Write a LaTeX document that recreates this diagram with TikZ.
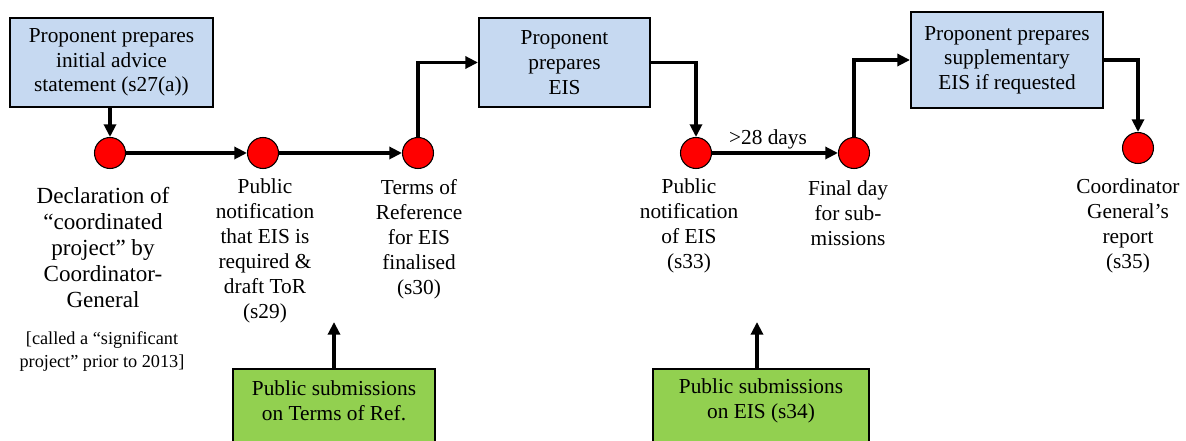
\documentclass[tikz,border=0pt]{standalone}
\usepackage{fontspec}
\setmainfont{Liberation Serif}
\newfontfamily\diagserif{Liberation Serif}
\usetikzlibrary{arrows.meta}
\definecolor{boxblue}{HTML}{C6D9F1}
\definecolor{boxgreen}{HTML}{92D050}
\definecolor{dotred}{HTML}{FF0000}

\begin{document}
\begin{tikzpicture}[x=0.75pt,y=-0.75pt,
  stagebox/.style={draw=black, line width=1.5pt, fill=boxblue, align=center,
    inner sep=0pt, font=\diagserif\fontsize{16}{18.5}\selectfont},
  subbox/.style={draw=black, line width=1.5pt, fill=boxgreen, inner sep=0pt},
  subtext/.style={align=center, inner sep=0pt, font=\diagserif\fontsize{16}{18.75}\selectfont},
  milestone/.style={circle, draw=black, line width=0.8pt, fill=dotred,
    minimum size=23.25pt, inner sep=0pt},
  caption/.style={align=center, inner sep=0pt, font=\diagserif\fontsize{16}{18.75}\selectfont},
  flow/.style={line width=2.4pt, -{Triangle[length=9.5pt,width=9pt]}},
]
\clip (0,0) rectangle (1186,441);
\useasboundingbox (0,0) rectangle (1186,441);

% proponent steps
\node[stagebox, minimum width=152.25pt, minimum height=66.75pt] (prep1) at (111.5,62.5)
  {Proponent prepares\\initial advice\\statement (s27(a))};
\node[stagebox, minimum width=128.25pt, minimum height=66.75pt] (prep2) at (564.5,62.5)
  {Proponent\\prepares\\EIS};
\node[stagebox, minimum width=144pt, minimum height=72pt] (prep3) at (1007,60)
  {Proponent prepares\\supplementary\\EIS if requested};

% milestones
\node[milestone] (m1) at (110,153) {};
\node[milestone] (m2) at (263,153) {};
\node[milestone] (m3) at (418,153) {};
\node[milestone] (m4) at (696,153) {};
\node[milestone] (m5) at (854,153) {};
\node[milestone] (m6) at (1138,148) {};

% milestone captions
\node[caption, font=\diagserif\fontsize{17.3}{19.5}\selectfont] (t1) at (103,247.5)
  {Declaration of\\“coordinated\\project” by\\Coordinator-\\General};
\node[caption, font=\diagserif\fontsize{13.7}{17.2}\selectfont] (t1note) at (102,351.5)
  {[called a “significant\\project” prior to 2013]};
\node[caption] (t2) at (265,250.5)
  {Public\\notification\\that EIS is\\required \&\\draft ToR\\(s29)};
\node[caption] (t3) at (419,239)
  {Terms of\\Reference\\for EIS\\finalised\\(s30)};
\node[caption] (t4) at (689,225.5)
  {Public\\notification\\of EIS\\(s33)};
\node[caption] (t5) at (848,213)
  {Final day\\for sub-\\missions};
\node[caption] (t6) at (1128,225.5)
  {Coordinator\\General’s\\report\\(s35)};
\node[caption] (days) at (768,139) {>28 days};

% public submission boxes (running past the lower edge)
\node[subbox, anchor=north, minimum width=151.5pt, minimum height=75pt] (sub1) at (334,368) {};
\node[subtext] (sub1txt) at (334,400.5) {Public submissions\\on Terms of Ref.};
\node[subbox, anchor=north, minimum width=162pt, minimum height=75pt] (sub2) at (761,368) {};
\node[subtext] (sub2txt) at (761,400.5) {Public submissions\\on EIS (s34)};
\coordinate (sub1tip) at (334,322);
\coordinate (sub2tip) at (757,322);

% connectors
\draw[flow] (prep1.south -| m1.north) -- (m1.north);
\draw[flow] (m1.east) -- (m2.west);
\draw[flow] (m2.east) -- (m3.west);
\draw[flow] (m3.north) |- (prep2.west);
\draw[flow] (prep2.east) -| (m4.north);
\draw[flow] (m4.east) -- (m5.west);
\draw[flow] (m5.north) |- (prep3.west);
\draw[flow] (prep3.east) -| (m6.north);
\draw[flow] (sub1.north) -- (sub1tip);
\draw[flow] (sub2.north -| sub2tip) -- (sub2tip);
\end{tikzpicture}
\end{document}
